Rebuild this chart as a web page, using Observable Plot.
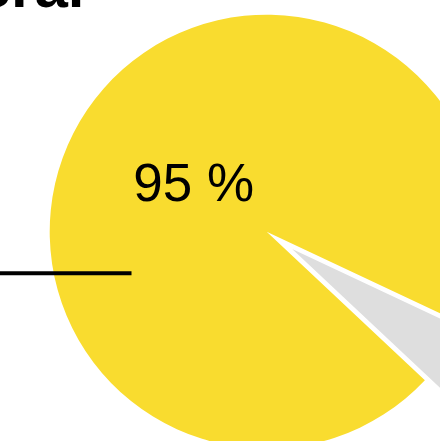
<!DOCTYPE html>
<html>
<head>
<meta charset="utf-8">
<script src="https://cdn.jsdelivr.net/npm/d3@7"></script>
<script src="https://cdn.jsdelivr.net/npm/@observablehq/plot@0.6"></script>
<style>
  html, body { margin: 0; padding: 0; background: #fff; overflow: hidden; }
  #chart { width: 440px; height: 441px; overflow: hidden; }
</style>
</head>
<body>
<div id="chart"></div>
<script>
// ---- data ----
const categories = ["Oui", "Non"];
const shares = [95, 5];
const sliceLabels = ["95 %", ""];
const sliceColors = ["#F9DC2F", "#DEDEDE"];
const titleText = "Général";

// ---- layout ----
const W = 440, H = 441;
const cx = 266.7, cy = 231.7, R = 217;   // pie centre / radius in px
const startDeg = 133.2;                  // first slice start, clockwise from 12 o'clock
const explode = [0, 26];                 // px offset per slice
const labelRadius = 0.41;                // label distance, fraction of radius

const data = categories.map((c, i) => ({category: c, share: shares[i], color: sliceColors[i], label: sliceLabels[i], explode: explode[i]}));
const start = startDeg * Math.PI / 180;
const arcs = d3.pie().sort(null).value(d => d.share).startAngle(start).endAngle(start + 2 * Math.PI)(data);

// label positions in radius units (y up)
const labelData = arcs.filter(a => a.data.label).map(a => {
  const mid = (a.startAngle + a.endAngle) / 2;
  return {x: labelRadius * Math.sin(mid), y: labelRadius * Math.cos(mid), text: a.data.label};
});

const xDomain = [-cx / R, (W - cx) / R];
const yDomain = [-(H - cy) / R, cy / R];

function pieMark(index, scales) {
  const x0 = scales.x(0), y0 = scales.y(0);
  const rPx = scales.x(1) - scales.x(0);
  const arcGen = d3.arc().innerRadius(0).outerRadius(rPx);
  const g = d3.create("svg:g");
  for (const a of arcs) {
    const mid = (a.startAngle + a.endAngle) / 2;
    const dx = a.data.explode * Math.sin(mid), dy = -a.data.explode * Math.cos(mid);
    g.append("path")
      .attr("d", arcGen(a))
      .attr("transform", `translate(${x0 + dx},${y0 + dy})`)
      .attr("fill", a.data.color)
      .attr("stroke", "#fff")
      .attr("stroke-width", a.data.explode ? 1.5 : 0);
  }
  return g.node();
}

// leader line (radius units)
const leader = [{y: -(272.7 - cy) / R, x1: xDomain[0], x2: (131.5 - cx) / R}];
const title = [{x: (84 - cx) / R, y: (cy - 11) / R, text: titleText}];

const chart = Plot.plot({
  width: W,
  height: H,
  margin: 0,
  x: {axis: null, domain: xDomain, range: [0, W]},
  y: {axis: null, domain: yDomain, range: [H, 0]},
  style: {background: "#fff", fontFamily: "'Liberation Sans', Arial, Helvetica, sans-serif"},
  marks: [
    pieMark,
    Plot.ruleY(leader, {y: "y", x1: "x1", x2: "x2", stroke: "#000", strokeWidth: 4}),
    Plot.text(labelData, {x: "x", y: "y", text: "text", fontSize: 53, fill: "#000", textAnchor: "middle", lineAnchor: "middle", dy: 1.5}),
    Plot.text(title, {x: "x", y: "y", text: "text", fontSize: 60, fontWeight: "bold", fill: "#000", textAnchor: "end", lineAnchor: "bottom", dy: -5})
  ]
});
document.getElementById("chart").appendChild(chart);
</script>
</body>
</html>
